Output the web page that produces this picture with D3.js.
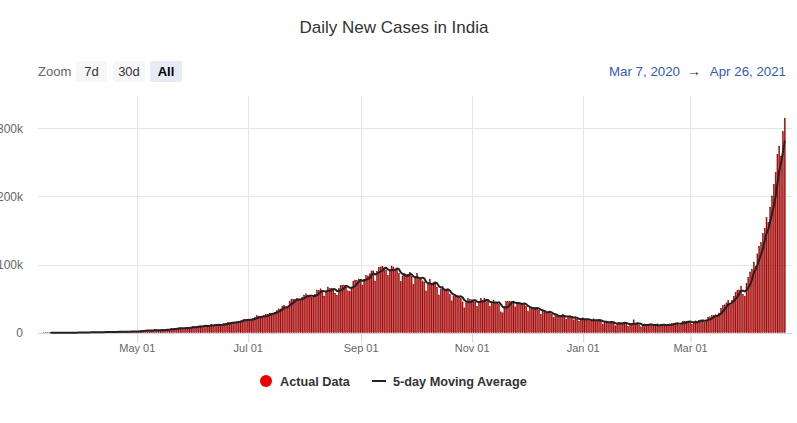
<!DOCTYPE html>
<html>
<head>
<meta charset="utf-8">
<script src="https://cdn.jsdelivr.net/npm/d3@7"></script>
<style>
  html, body { margin: 0; padding: 0; background: #ffffff; }
  svg { display: block; font-family: "Liberation Sans", Arial, sans-serif; }
</style>
</head>
<body>
<svg id="chart" width="797" height="423"></svg>
<script>
// ---------------- DATA (daily new cases, consecutive days) ----------------
const firstDay = "2020-03-11";          // date of the first value below
const cases2020Mar = [16, 12, 11, 9, 18, 15, 12, 23, 25, 39, 63, 83, 89, 102, 62, 86, 88, 149, 149, 106, 227, 146];
const cases2020Apr = [601, 545, 478, 578, 481, 650, 570, 680, 809, 873, 848, 760, 1243, 1031, 886, 1061, 922, 1371, 1580, 1239, 1537, 1292, 1667, 1408, 1835, 1607, 1568, 1902, 1705, 1801];
const cases2020May = [2396, 2564, 2952, 3656, 2971, 3602, 3344, 3339, 3175, 4311, 3592, 3562, 3726, 3991, 3808, 4794, 5049, 4628, 6147, 5553, 6198, 6568, 6629, 7113, 6414, 5843, 7293, 7300, 8105, 8336, 8782];
const cases2020Jun = [7723, 8812, 9689, 9849, 9472, 10408, 10882, 8536, 9981, 12375, 10956, 11929, 11320, 12068, 10843, 11590, 13108, 13829, 14740, 14516, 15413, 14821, 14933, 15968, 16922, 17296, 18552, 19906, 19459, 18522];
const cases2020Jul = [18653, 19148, 20903, 22771, 24850, 24248, 22252, 22752, 24879, 26506, 27114, 28637, 28701, 28498, 29429, 32695, 34956, 34884, 38902, 40425, 37148, 37724, 45720, 49310, 48916, 48661, 49931, 47703, 48513, 52123, 55079];
const cases2020Aug = [57118, 54735, 52972, 52050, 52509, 56282, 62538, 61537, 64399, 62064, 53601, 60963, 66999, 64553, 65002, 63490, 57981, 55079, 64531, 69652, 68898, 69878, 69239, 61408, 60975, 67151, 75760, 77266, 76472, 78761, 78512];
const cases2020Sep = [69921, 78357, 83883, 83341, 86432, 90632, 90802, 75809, 89706, 95735, 96551, 97570, 94372, 92071, 83809, 90123, 97894, 96424, 93337, 92605, 86961, 75083, 83347, 86508, 86052, 85362, 88600, 82170, 70589, 80472];
const cases2020Oct = [86821, 81484, 79476, 75829, 74442, 61267, 72049, 78524, 70496, 73272, 74383, 66732, 55342, 63509, 67708, 63371, 62212, 61871, 55722, 46790, 54044, 55839, 54366, 53370, 50129, 45148, 36469, 43893, 49881, 48648, 48268];
const cases2020Nov = [46963, 45231, 38310, 46253, 50210, 47638, 50357, 45674, 45903, 38073, 44281, 47905, 44879, 44878, 41100, 30548, 29163, 38617, 45576, 45882, 46232, 45209, 44059, 37975, 44376, 44489, 43082, 41322, 41810, 38772];
const cases2020Dec = [31118, 36604, 35551, 36595, 36652, 36011, 32981, 26567, 32080, 31521, 29398, 30006, 30254, 27071, 22065, 26382, 24010, 22890, 25152, 26624, 24337, 19556, 23950, 24712, 23068, 18732, 22273, 20021, 16432, 20550, 21822];
const cases2021Jan = [20035, 19078, 18177, 16505, 18088, 20346, 18139, 18222, 18645, 16311, 12584, 15968, 16946, 15590, 15158, 15144, 13788, 10064, 13823, 15223, 14545, 14256, 14849, 13203, 9102, 12689, 11666, 18855, 13083, 13052, 11427];
const cases2021Feb = [8635, 11039, 12899, 12408, 11713, 12059, 11831, 9110, 11067, 12923, 9309, 12194, 12143, 11649, 9121, 11610, 12881, 13193, 13993, 14264, 14199, 10584, 13742, 16738, 16577, 16488, 16752, 15510];
const cases2021Mar = [12286, 14989, 17407, 16838, 18327, 18711, 18599, 15388, 17921, 22854, 23285, 24882, 25320, 26291, 24492, 28903, 35871, 39726, 40953, 43846, 46951, 40715, 47262, 53476, 59118, 62258, 62714, 68020, 56211, 53480, 72330];
const cases2021Apr = [81466, 89129, 93249, 103558, 96982, 115736, 126789, 131968, 145384, 152879, 168912, 161736, 184372, 200739, 217353, 234692, 261500, 273810, 259170, 295041, 314835];

const xTickDates = ["2020-05-01", "2020-07-01", "2020-09-01", "2020-11-01", "2021-01-01", "2021-03-01"];
const yTickValues = [0, 100000, 200000, 300000];
const yTickLabels = ["0", "100k", "200k", "300k"];
const axisStart = "2020-03-07T18:00:00Z";
const axisEnd = "2021-04-26T00:00:00Z";
const yMax = 350000;
const maWindow = 5;

const titleText = "Daily New Cases in India";
const zoomButtons = ["7d", "30d", "All"];
const rangeFrom = "Mar 7, 2020";
const rangeTo = "Apr 26, 2021";
const legendNames = ["Actual Data", "5-day Moving Average"];

// ---------------- BUILD ----------------
const allCases = [].concat(cases2020Mar, cases2020Apr, cases2020May, cases2020Jun, cases2020Jul,
  cases2020Aug, cases2020Sep, cases2020Oct, cases2020Nov, cases2020Dec, cases2021Jan,
  cases2021Feb, cases2021Mar, cases2021Apr);
const t0 = new Date(firstDay + "T00:00:00Z");
const data = allCases.map((v, i) => ({ date: d3.utcDay.offset(t0, i), value: v }));
const maData = data.map((d, i) => {
  if (i < maWindow - 1) return null;
  return { date: d.date, value: d3.mean(data.slice(i - maWindow + 1, i + 1), e => e.value) };
}).filter(d => d);

const svg = d3.select("#chart");
const plot = { left: 38, right: 792, top: 94.2, bottom: 332.7 };

const x = d3.scaleUtc().domain([new Date(axisStart), new Date(axisEnd)]).range([plot.left, plot.right]);
const y = d3.scaleLinear().domain([0, yMax]).range([plot.bottom, plot.top]);

// Title
svg.append("text").attr("x", 394).attr("y", 33).attr("text-anchor", "middle")
  .attr("fill", "#333333").style("font-size", "17px").text(titleText);

// Range selector
svg.append("text").attr("x", 38).attr("y", 76).attr("fill", "#666666")
  .style("font-size", "13px").text("Zoom");
const btnX = [76, 113, 150], btnW = [31, 32, 32];
zoomButtons.forEach((b, i) => {
  const sel = (b === "All");
  svg.append("rect").attr("x", btnX[i]).attr("y", 61).attr("width", btnW[i]).attr("height", 21)
    .attr("rx", 2).attr("fill", sel ? "#e6ebf5" : "#f7f7f7");
  svg.append("text").attr("x", btnX[i] + btnW[i] / 2).attr("y", 76).attr("text-anchor", "middle")
    .attr("fill", sel ? "#000000" : "#333333").style("font-size", "13px")
    .style("font-weight", sel ? "bold" : "normal").text(b);
});
svg.append("text").attr("x", 609).attr("y", 76).attr("fill", "#335cad")
  .style("font-size", "13.3px").text(rangeFrom);
svg.append("text").attr("x", 694).attr("y", 76).attr("text-anchor", "middle").attr("fill", "#333333")
  .style("font-size", "14px").text("\u2192");
svg.append("text").attr("x", 786).attr("y", 76).attr("text-anchor", "end").attr("fill", "#335cad")
  .style("font-size", "13.3px").text(rangeTo);

// Grid lines
const xTicks = xTickDates.map(s => new Date(s + "T00:00:00Z"));
svg.append("g").selectAll("line.hg").data(yTickValues.slice(1)).join("line")
  .attr("x1", plot.left).attr("x2", plot.right)
  .attr("y1", d => Math.round(y(d)) + 0.5).attr("y2", d => Math.round(y(d)) + 0.5)
  .attr("stroke", "#e6e6e6").attr("stroke-width", 1);
svg.append("g").selectAll("line.vg").data(xTicks).join("line")
  .attr("x1", d => Math.round(x(d)) + 0.5).attr("x2", d => Math.round(x(d)) + 0.5)
  .attr("y1", plot.top + 1.5).attr("y2", plot.bottom)
  .attr("stroke", "#e6e6e6").attr("stroke-width", 1);

// Y axis labels
const yAxis = d3.axisLeft(y).tickValues(yTickValues).tickSize(0).tickPadding(15)
  .tickFormat((d, i) => yTickLabels[i]);
const gy = svg.append("g").attr("transform", `translate(${plot.left},0)`).call(yAxis);
gy.select(".domain").remove();
gy.selectAll("text").attr("fill", "#666666").style("font-size", "12px")
  .style("font-family", "'Liberation Sans', Arial, sans-serif");

// Bars
const barW = 1.0;
svg.append("g").selectAll("rect").data(data).join("rect")
  .attr("x", d => x(d.date) - barW / 2)
  .attr("width", barW)
  .attr("y", d => y(d.value))
  .attr("height", d => y(0) - y(d.value))
  .attr("fill", "#dd0000")
  .attr("stroke", "#7a0000")
  .attr("stroke-width", 0.45);

// X axis
const xAxis = d3.axisBottom(x).tickValues(xTicks).tickSizeInner(9).tickSizeOuter(0)
  .tickPadding(2).tickFormat(d3.utcFormat("%b %d"));
const gx = svg.append("g").attr("transform", `translate(0,${Math.round(plot.bottom) + 0.5})`).call(xAxis);
gx.select(".domain").attr("stroke", "#ccd6eb").attr("d", `M${plot.left},0H${plot.right}`);
gx.selectAll(".tick line").attr("stroke", "#ccd6eb").attr("transform", "translate(0.5,0)");
gx.selectAll(".tick text").attr("fill", "#666666").style("font-size", "11px")
  .style("font-family", "'Liberation Sans', Arial, sans-serif");

// Moving average line
const line = d3.line().x(d => x(d.date)).y(d => y(d.value));
svg.append("path").datum(maData).attr("d", line)
  .attr("fill", "none").attr("stroke", "#222222").attr("stroke-width", 2)
  .attr("stroke-linejoin", "round").attr("stroke-linecap", "round");

// Legend
const lg = svg.append("g");
lg.append("circle").attr("cx", 266).attr("cy", 381).attr("r", 6).attr("fill", "#ee0000");
lg.append("text").attr("x", 280).attr("y", 385.5).attr("fill", "#333333")
  .style("font-size", "12.7px").style("font-weight", "bold").text(legendNames[0]);
lg.append("line").attr("x1", 372).attr("x2", 386).attr("y1", 381).attr("y2", 381)
  .attr("stroke", "#222222").attr("stroke-width", 2);
lg.append("text").attr("x", 393).attr("y", 385.5).attr("fill", "#333333")
  .style("font-size", "12.7px").style("font-weight", "bold").text(legendNames[1]);
</script>
</body>
</html>
